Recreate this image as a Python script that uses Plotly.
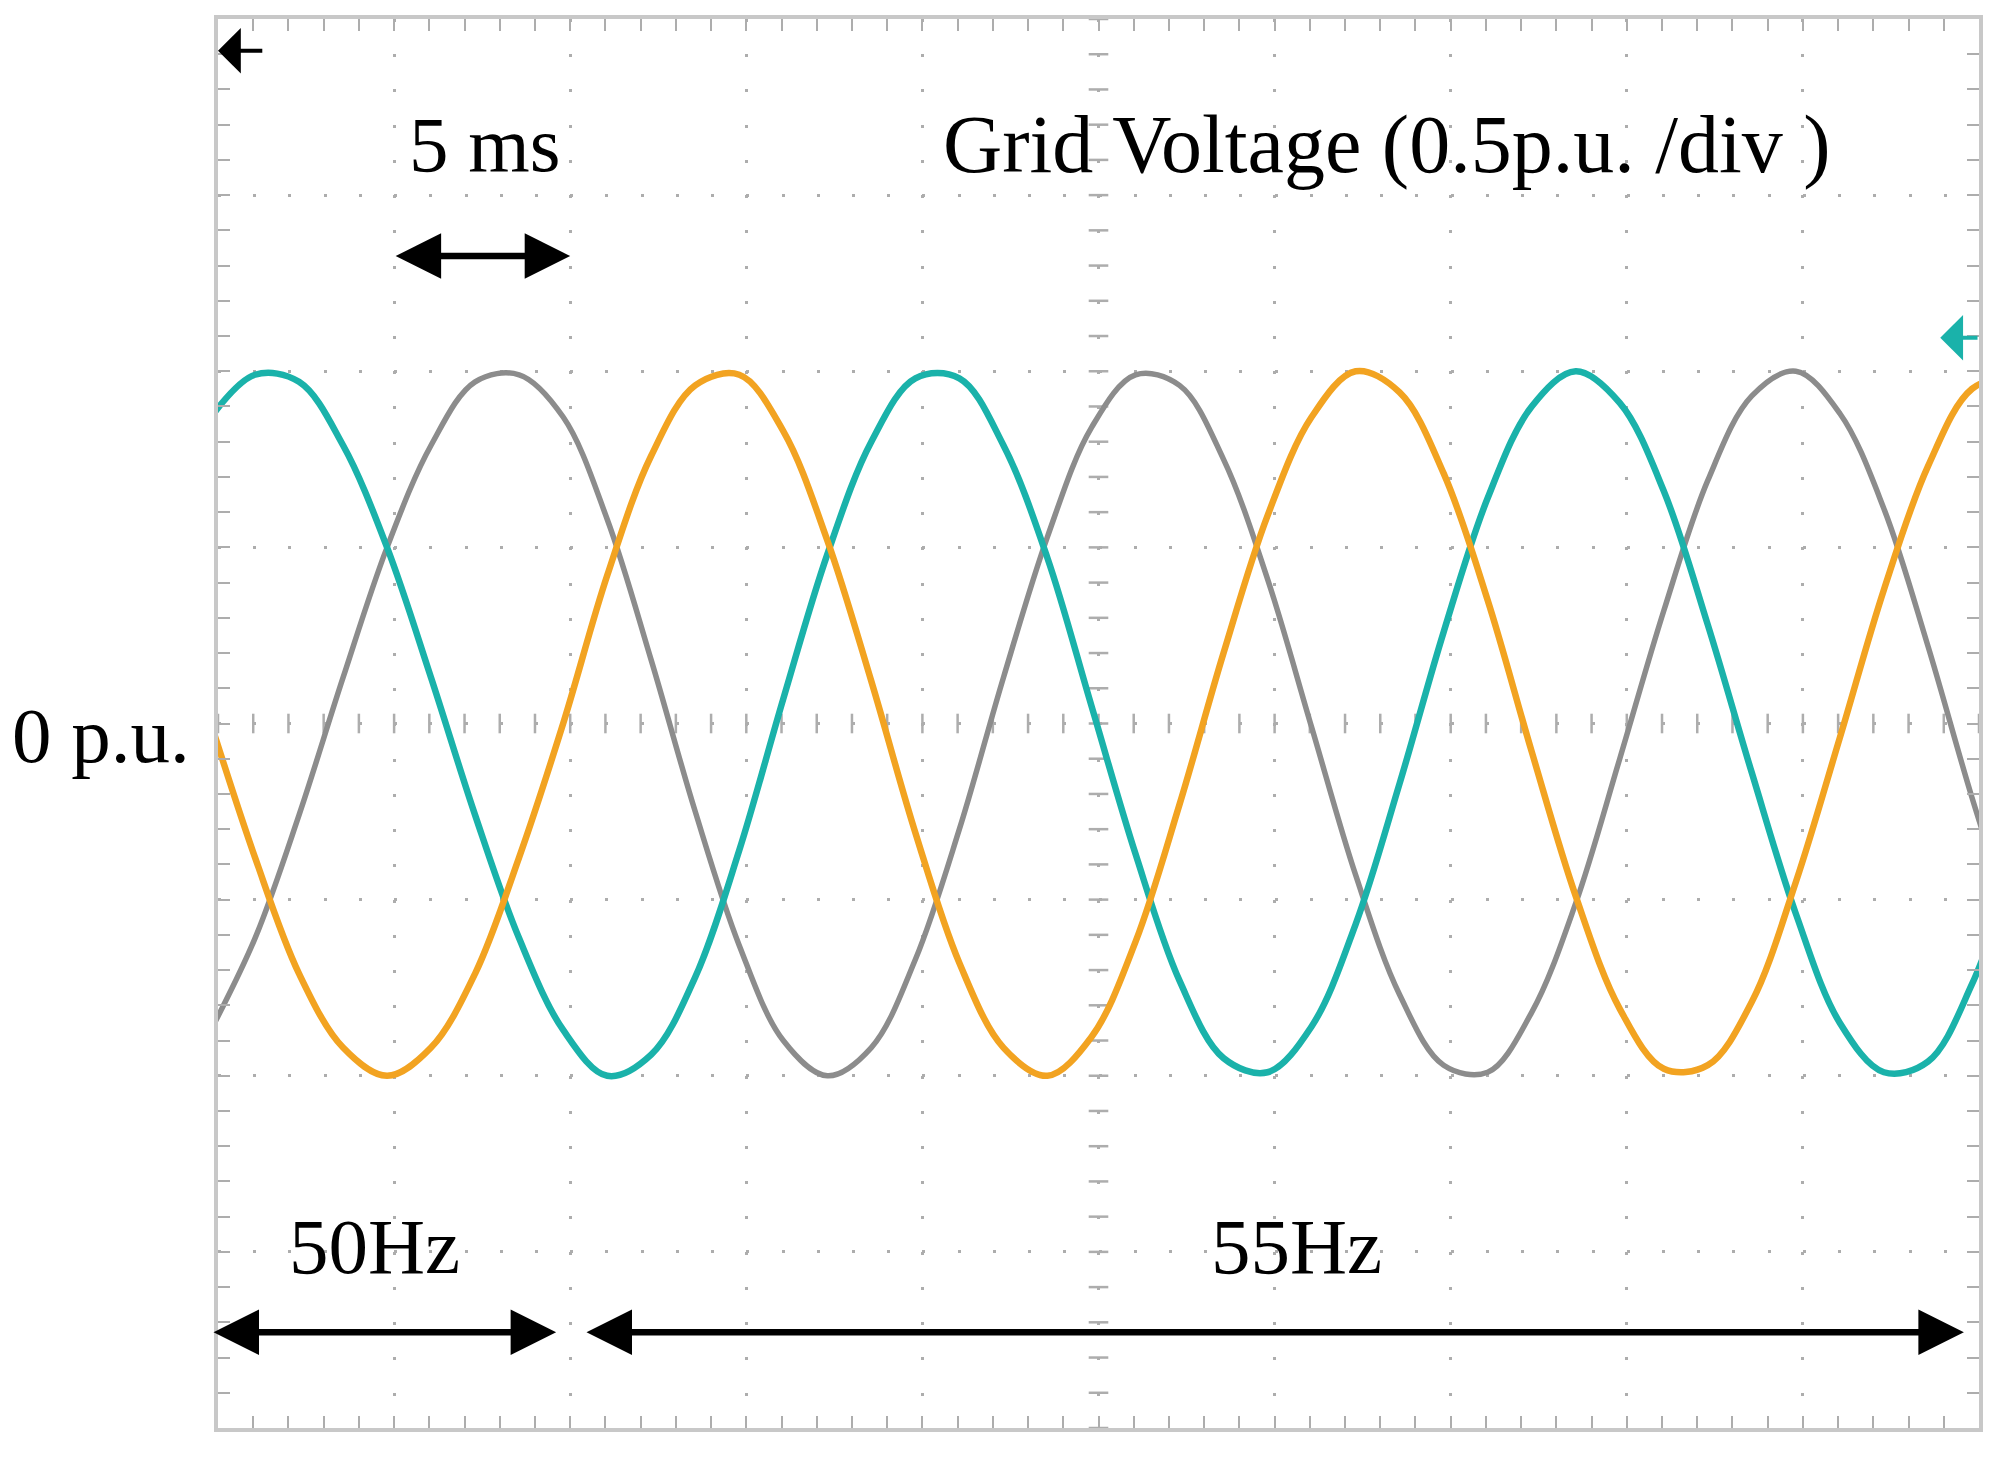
import numpy as np
import plotly.graph_objects as go

# ---------------- data ----------------
# sample times in ms (5 ms/div, 10 divisions); frequency steps 50 -> 55 Hz at ~9.8 ms
time_ms = [-0.2, 1.05, 2.3, 3.55, 4.8, 6.05, 7.3, 8.55, 9.8, 11.05, 12.3,
           13.55, 14.8, 16.05, 17.3, 18.55, 19.8, 21.05, 22.3, 23.55, 24.8,
           26.05, 27.3, 28.55, 29.8, 31.05, 32.3, 33.55, 34.8, 36.05, 37.3,
           38.55, 39.8, 41.05, 42.3, 43.55, 44.8, 46.05, 47.3, 48.55, 49.8,
           51.05]

# phase voltages in p.u. (0.5 p.u./div)
phase_teal = [0.87, 0.99, 0.97, 0.79, 0.50, 0.13, -0.26, -0.61, -0.87,
              -1.00, -0.94, -0.72, -0.36, 0.07, 0.48, 0.80, 0.98, 0.98, 0.79,
              0.47, 0.05, -0.37, -0.73, -0.95, -0.99, -0.86, -0.57, -0.17,
              0.26, 0.64, 0.90, 1.00, 0.91, 0.66, 0.28, -0.14, -0.54, -0.85,
              -0.99, -0.96, -0.74, -0.39]
phase_orange = [0.00, -0.38, -0.71, -0.92, -1.00, -0.92, -0.71, -0.38, 0.00,
                0.42, 0.76, 0.96, 0.99, 0.83, 0.52, 0.12, -0.31, -0.68, -0.92,
                -1.00, -0.89, -0.62, -0.23, 0.20, 0.59, 0.87, 1.00, 0.94, 0.71,
                0.35, -0.08, -0.49, -0.81, -0.98, -0.97, -0.79, -0.45, -0.04,
                0.38, 0.73, 0.95, 0.99]
phase_grey = [-0.87, -0.61, -0.26, 0.13, 0.50, 0.79, 0.97, 0.99, 0.87,
              0.58, 0.18, -0.25, -0.63, -0.90, -1.00, -0.92, -0.67, -0.30,
              0.13, 0.53, 0.84, 0.99, 0.96, 0.75, 0.41, -0.01, -0.43, -0.77,
              -0.97, -0.99, -0.82, -0.51, -0.10, 0.32, 0.69, 0.93, 1.00, 0.88,
              0.61, 0.22, -0.21, -0.60]

# time spans marked on the picture (ms)
scale_span = [5, 10]          # "5 ms"
span_50hz = [-0.17, 9.6]
span_55hz = [10.42, 49.57]

X_RANGE = [0, 50]
Y_RANGE = [-2, 2]
MS_PER_DIV = 5
PU_PER_DIV = 0.5

GRID = "#adadad"
FRAME = "#c8c8c8"
TEAL = "#1ab2aa"
ORANGE = "#f2a321"
GREY = "#8c8c8c"
FONT = "Liberation Serif, Times New Roman, serif"

fig = go.Figure()

# centre cross-hair tick marks (every 1/5 division)
cx = np.arange(X_RANGE[0], X_RANGE[1] + 1e-9, MS_PER_DIV / 5)
cy = np.arange(Y_RANGE[0], Y_RANGE[1] + 1e-9, PU_PER_DIV / 5)
xmid = (X_RANGE[0] + X_RANGE[1]) / 2
fig.add_trace(go.Scatter(x=cx, y=np.zeros_like(cx), mode="markers",
                         marker=dict(symbol="line-ns", size=14,
                                     line=dict(width=2.5, color=GRID)),
                         hoverinfo="skip", showlegend=False))
fig.add_trace(go.Scatter(x=np.full_like(cy, xmid), y=cy, mode="markers",
                         marker=dict(symbol="line-ew", size=14,
                                     line=dict(width=2.5, color=GRID)),
                         hoverinfo="skip", showlegend=False))

for vals, color, width in [(phase_grey, GREY, 5.5),
                           (phase_teal, TEAL, 6.5),
                           (phase_orange, ORANGE, 6.5)]:
    fig.add_trace(go.Scatter(x=time_ms, y=vals, mode="lines",
                             line=dict(color=color, width=width,
                                       shape="spline", smoothing=1),
                             showlegend=False, hoverinfo="skip"))

axis_common = dict(showgrid=True, gridcolor=GRID, gridwidth=3,
                   griddash="3px,32.22px", zeroline=False,
                   showline=True, linecolor=FRAME, linewidth=4,
                   mirror="ticks", ticks="inside", ticklen=12, tickwidth=2,
                   tickcolor=GRID, showticklabels=False, fixedrange=True)

fig.update_xaxes(range=X_RANGE, tick0=0, dtick=MS_PER_DIV,
                 minor=dict(dtick=MS_PER_DIV / 5, ticks="inside", ticklen=12,
                            tickwidth=2, tickcolor=GRID, showgrid=False),
                 **axis_common)
fig.update_yaxes(range=Y_RANGE, tick0=0, dtick=PU_PER_DIV,
                 minor=dict(dtick=PU_PER_DIV / 5, ticks="inside", ticklen=12,
                            tickwidth=2, tickcolor=GRID, showgrid=False),
                 **axis_common)

tfont = dict(family=FONT, size=79, color="black")
annotations = [
    dict(x=7.58, y=1.645, text="5 ms", font=tfont),
    dict(x=33.2, y=1.645, text="Grid Voltage (0.5p.u. /div )",
         font=dict(family=FONT, size=82, color="black")),
    dict(x=4.45, y=-1.484, text="50Hz", font=tfont),
    dict(x=30.62, y=-1.484, text="55Hz", font=tfont),
]
anns = []
for a in annotations:
    anns.append(dict(xref="x", yref="y", showarrow=False,
                     xanchor="center", yanchor="middle", **a))
anns.append(dict(xref="paper", yref="y", x=-0.0147, y=-0.035, text="0 p.u.",
                 showarrow=False, font=tfont, xanchor="right",
                 yanchor="middle"))


def span_arrow(x0, x1, y):
    return dict(xref="x", yref="y", axref="x", ayref="y", x=x1, y=y,
                ax=x0, ay=y, text="", showarrow=True, arrowhead=2,
                startarrowhead=2, arrowside="end+start", arrowwidth=6.5,
                arrowsize=1.4, startarrowsize=1.4, arrowcolor="black",
                standoff=0, startstandoff=0)


anns.append(span_arrow(scale_span[0], scale_span[1], 1.327))
anns.append(span_arrow(span_50hz[0], span_50hz[1], -1.728))
anns.append(span_arrow(span_55hz[0], span_55hz[1], -1.728))

# channel / trigger markers
anns.append(dict(xref="x", yref="y", axref="x", ayref="y", x=0, y=1.91,
                 ax=1.3, ay=1.91, text="", showarrow=True, arrowhead=1,
                 arrowwidth=4, arrowsize=1.9, arrowcolor="black"))
anns.append(dict(xref="x", yref="y", axref="x", ayref="y", x=48.9, y=1.095,
                 ax=50, ay=1.095, text="", showarrow=True, arrowhead=1,
                 arrowwidth=4, arrowsize=1.9, arrowcolor=TEAL))

fig.update_layout(width=2008, height=1460,
                  margin=dict(l=218, r=29, t=19, b=32, pad=0),
                  plot_bgcolor="white", paper_bgcolor="white",
                  annotations=anns, showlegend=False)

fig.write_html("out.html", config={"displayModeBar": False},
               post_script="document.body.style.margin='0';"
                           "document.body.style.overflow='hidden';")
